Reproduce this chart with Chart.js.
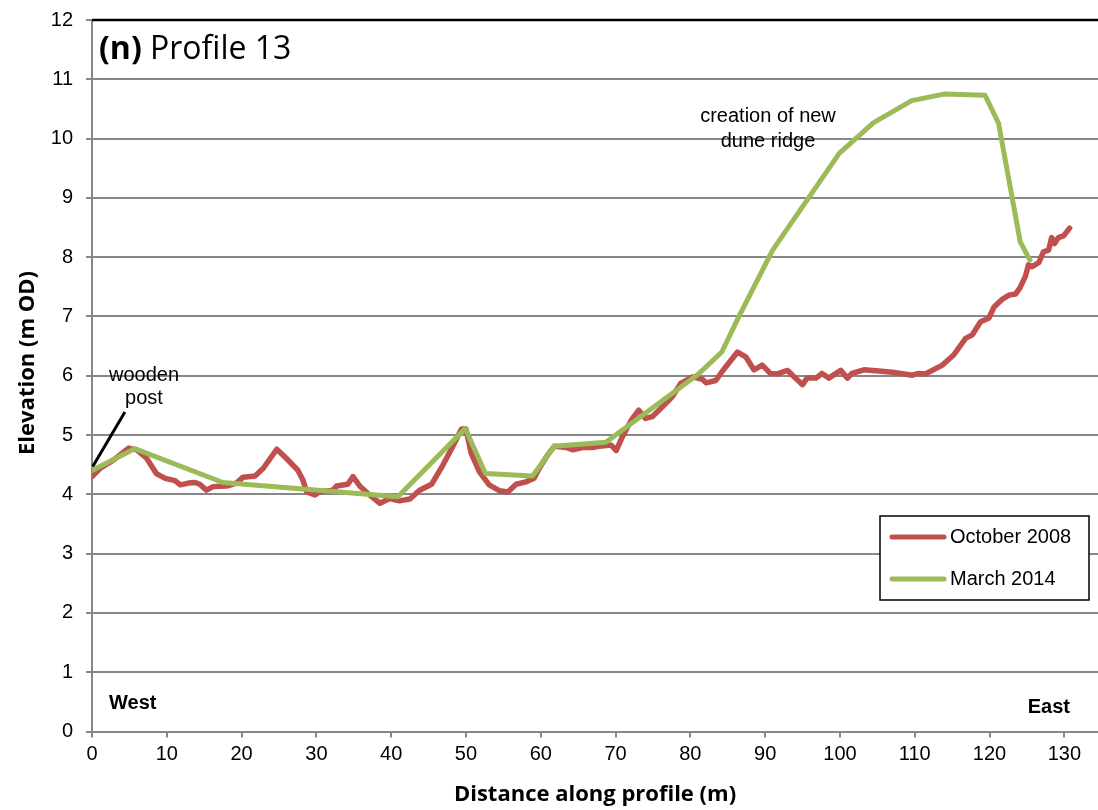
<!DOCTYPE html>
<html>
<head>
<meta charset="utf-8">
<script src="https://cdn.jsdelivr.net/npm/chart.js@4.4.1/dist/chart.umd.min.js"></script>
<style>
  html, body { margin: 0; padding: 0; background: #fff; }
  #wrap { width: 1098px; height: 810px; }
</style>
</head>
<body>
<div id="wrap"><canvas id="c" width="1098" height="810"></canvas></div>
<script>
// October 2008 profile (distance m, elevation m OD)
const oct2008X = [0, 1.1, 2.9, 4.9, 6.0, 7.3, 8.6, 9.8, 11.1, 11.8, 12.9, 13.8, 14.4, 15.3, 16.2, 18.0, 19.3, 20.2, 21.8, 22.9,
  24.7, 25.8, 27.5, 28.2, 28.7, 29.8, 30.4, 32.2, 32.7, 34.2, 34.9, 35.8, 37.1, 38.5, 39.8, 41.1, 42.5, 43.8, 45.4, 46.9,
  48.2, 49.4, 50.0, 50.7, 51.8, 53.1, 54.5, 55.6, 56.7, 58.0, 59.1, 59.8, 60.9, 61.8, 63.4, 64.3, 65.6, 66.9, 67.8, 69.4,
  70.1, 70.9, 72.1, 73.1, 74.0, 74.9, 76.3, 77.6, 78.7, 80.3, 81.6, 82.1, 83.4, 84.3, 86.3, 87.4, 88.5, 89.6, 90.7, 91.6,
  93.0, 93.9, 95.0, 95.6, 96.8, 97.6, 98.5, 100.1, 101.0, 101.6, 103.2, 105.2, 107.0, 109.7, 110.5, 111.4, 113.7, 115.2, 116.8, 117.7,
  118.8, 119.9, 120.6, 121.7, 122.6, 123.5, 124.1, 124.8, 125.2, 125.7, 126.6, 127.2, 127.9, 128.3, 128.7, 129.2, 129.9, 130.7];
const oct2008Y = [4.30, 4.44, 4.58, 4.78, 4.75, 4.61, 4.35, 4.27, 4.23, 4.16, 4.19, 4.20, 4.17, 4.07, 4.13, 4.14, 4.19, 4.29, 4.31, 4.44,
  4.76, 4.63, 4.41, 4.24, 4.04, 3.99, 4.04, 4.07, 4.14, 4.17, 4.30, 4.14, 3.99, 3.85, 3.93, 3.89, 3.92, 4.07, 4.17, 4.49,
  4.80, 5.10, 5.10, 4.69, 4.38, 4.16, 4.06, 4.04, 4.17, 4.21, 4.27, 4.44, 4.66, 4.81, 4.79, 4.75, 4.79, 4.79, 4.81, 4.83,
  4.74, 4.97, 5.25, 5.42, 5.28, 5.31, 5.48, 5.65, 5.87, 5.98, 5.94, 5.88, 5.92, 6.08, 6.40, 6.32, 6.10, 6.18, 6.04, 6.03,
  6.09, 5.98, 5.85, 5.96, 5.96, 6.04, 5.96, 6.09, 5.96, 6.04, 6.10, 6.08, 6.06, 6.01, 6.04, 6.03, 6.18, 6.35, 6.63, 6.69,
  6.91, 6.97, 7.16, 7.29, 7.36, 7.38, 7.49, 7.68, 7.87, 7.84, 7.91, 8.09, 8.12, 8.33, 8.23, 8.33, 8.36, 8.49];

// March 2014 profile
const mar2014X = [0, 5.7, 17.5, 40.9, 49.9, 52.6, 58.9, 61.8, 68.7, 81.0, 84.2, 86.5, 91.0, 99.9, 104.5, 109.6, 113.9, 119.4, 121.2, 124.1, 125.4];
const mar2014Y = [4.40, 4.77, 4.20, 3.96, 5.11, 4.35, 4.31, 4.81, 4.88, 6.02, 6.40, 7.00, 8.12, 9.75, 10.27, 10.64, 10.75, 10.73, 10.26, 8.26, 7.95];

const seriesNames = ["October 2008", "March 2014"];
const seriesColors = ["#C0504D", "#9BBB59"];
const xTicks = [0, 10, 20, 30, 40, 50, 60, 70, 80, 90, 100, 110, 120, 130];
const yTicks = [0, 1, 2, 3, 4, 5, 6, 7, 8, 9, 10, 11, 12];

// annotation anchors (data coords)
const postLine = [[0.1, 4.47], [4.4, 5.39]];

const pts = (xs, ys) => xs.map((x, i) => ({ x, y: ys[i] }));
const GRID = "#878787";
const SANS = "'Liberation Sans', Arial, sans-serif";
const CAL = "'Open Sans', 'Noto Sans', sans-serif";

const extras = {
  id: "extras",
  afterDraw(chart) {
    const { ctx, chartArea: a, scales: { x, y } } = chart;
    ctx.save();
    // black top edge
    ctx.strokeStyle = "#000"; ctx.lineWidth = 2.5;
    ctx.beginPath(); ctx.moveTo(a.left, a.top); ctx.lineTo(a.right, a.top); ctx.stroke();

    // panel title
    ctx.fillStyle = "#000"; ctx.textBaseline = "middle"; ctx.textAlign = "left";
    ctx.font = "bold 32px " + CAL;
    ctx.fillText("(n)", 99, 50);
    const w = ctx.measureText("(n) ").width;
    ctx.font = "32px " + CAL;
    ctx.fillText("Profile 13", 99 + w, 50);

    // y axis title
    ctx.save();
    ctx.translate(28, 363); ctx.rotate(-Math.PI / 2);
    ctx.textAlign = "center"; ctx.font = "bold 22px " + CAL;
    ctx.fillText("Elevation (m OD)", 0, 0);
    ctx.restore();

    // wooden post
    ctx.strokeStyle = "#000"; ctx.lineWidth = 3; ctx.lineCap = "butt";
    ctx.beginPath();
    ctx.moveTo(x.getPixelForValue(postLine[0][0]), y.getPixelForValue(postLine[0][1]));
    ctx.lineTo(x.getPixelForValue(postLine[1][0]), y.getPixelForValue(postLine[1][1]));
    ctx.stroke();
    ctx.font = "20px " + SANS; ctx.textAlign = "center";
    ctx.fillText("wooden", 144, 375);
    ctx.fillText("post", 144, 398);
    ctx.fillText("creation of new", 768, 116);
    ctx.fillText("dune ridge", 768, 141);

    ctx.font = "bold 20px " + SANS;
    ctx.textAlign = "left"; ctx.fillText("West", 109, 703);
    ctx.textAlign = "right"; ctx.fillText("East", 1070, 707);

    // legend
    ctx.fillStyle = "#fff"; ctx.fillRect(880, 516, 209, 84);
    ctx.strokeStyle = "#000"; ctx.lineWidth = 1.5; ctx.strokeRect(880, 516, 209, 84);
    ctx.lineCap = "round"; ctx.lineWidth = 5;
    ctx.font = "20px " + SANS; ctx.textAlign = "left"; ctx.fillStyle = "#000";
    [537, 579].forEach((ly, i) => {
      ctx.strokeStyle = seriesColors[i];
      ctx.beginPath(); ctx.moveTo(892, ly); ctx.lineTo(944, ly); ctx.stroke();
      ctx.fillText(seriesNames[i], 950, ly);
    });
    ctx.restore();
  }
};

new Chart(document.getElementById("c"), {
  type: "line",
  data: {
    datasets: [
      { label: seriesNames[0], data: pts(oct2008X, oct2008Y), borderColor: seriesColors[0], borderWidth: 5.5, pointRadius: 0, tension: 0, order: 2, borderJoinStyle: "round", borderCapStyle: "round" },
      { label: seriesNames[1], data: pts(mar2014X, mar2014Y), borderColor: seriesColors[1], borderWidth: 5, pointRadius: 0, tension: 0, order: 1, borderJoinStyle: "round", borderCapStyle: "round" },
    ],
  },
  options: {
    responsive: false,
    animation: false,
    layout: { padding: { top: 20, right: 0, left: 0, bottom: 0 } },
    plugins: { legend: { display: false }, tooltip: { enabled: false } },
    scales: {
      x: {
        type: "linear", min: 0, max: 134.5,
        afterBuildTicks: (s) => { s.ticks = xTicks.map((v) => ({ value: v })); },
        afterFit: (s) => { s.height = 78.5; s.paddingLeft = 0; s.paddingRight = 0; },
        grid: { drawOnChartArea: false, drawTicks: true, tickLength: 6, color: GRID, lineWidth: 2 },
        border: { color: GRID, width: 2 },
        ticks: { color: "#000", font: { family: SANS, size: 20 }, padding: 5, maxRotation: 0 },
        title: { display: true, text: "Distance along profile (m)", color: "#000", font: { family: CAL, size: 22, weight: "bold" }, padding: { top: 0, bottom: 2 } },
      },
      y: {
        min: 0, max: 12,
        afterBuildTicks: (s) => { s.ticks = yTicks.map((v) => ({ value: v })); },
        afterFit: (s) => { s.width = 92; s.paddingTop = 0; s.paddingBottom = 0; },
        grid: { color: GRID, lineWidth: 2, tickLength: 6 },
        border: { color: GRID, width: 2 },
        ticks: { color: "#000", font: { family: SANS, size: 20 }, padding: 13 },
      },
    },
  },
  plugins: [extras],
});
</script>
</body>
</html>
